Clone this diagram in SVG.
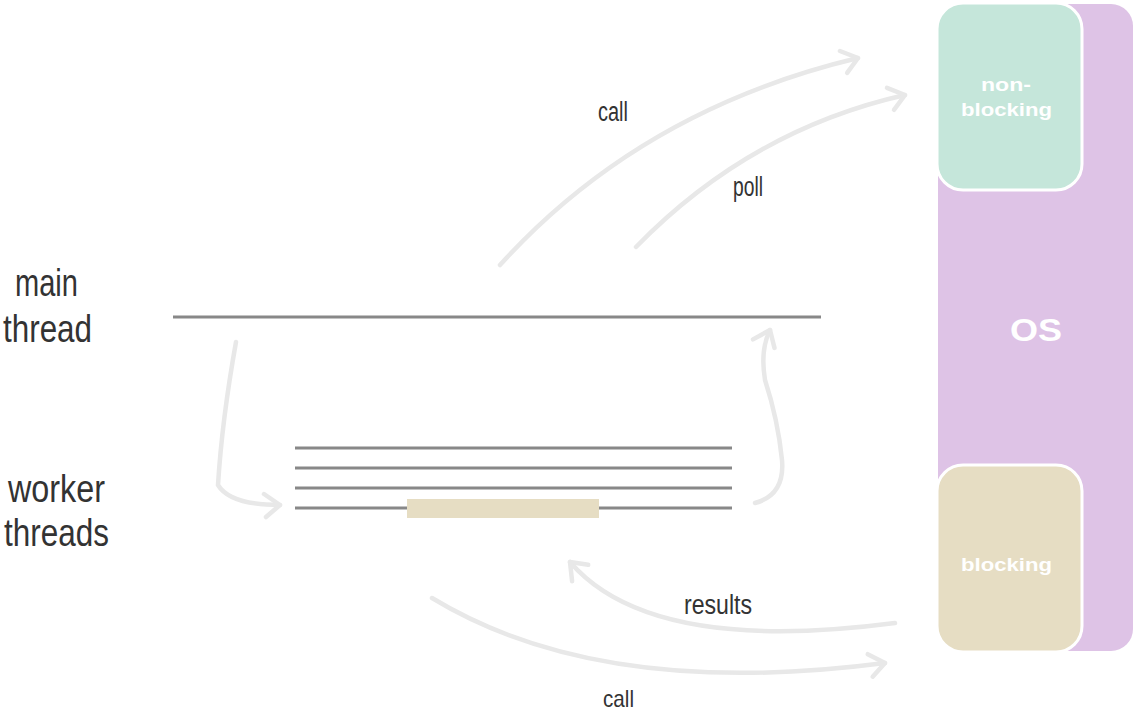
<svg xmlns="http://www.w3.org/2000/svg" width="1134" height="714" viewBox="0 0 1134 714">
<style>
.hand{font-family:"Liberation Sans","DejaVu Sans",sans-serif;fill:#333}
.box{font-family:"Liberation Sans","DejaVu Sans",sans-serif;font-weight:bold;fill:#fff}
.thread{stroke:#888;stroke-width:3;fill:none}
.arr{stroke:#e8e8e8;stroke-width:4.5;fill:none;stroke-linecap:round;marker-end:url(#chev)}
</style>
<defs>
<marker id="chev" markerUnits="userSpaceOnUse" markerWidth="30" markerHeight="30" refX="20" refY="12" orient="auto" overflow="visible">
<path d="M4,1 L20,12 L6,24" fill="none" stroke="#e8e8e8" stroke-width="4.5" stroke-linecap="round" stroke-linejoin="round"/>
</marker>
</defs>
<g id="os">
<rect x="938" y="4" width="195" height="647" rx="22" fill="#dec3e6"/>
<text class="box" x="1010" y="341" font-size="31" textLength="52" lengthAdjust="spacingAndGlyphs">OS</text>
</g>
<g id="non-blocking">
<rect x="937" y="3" width="145" height="187" rx="26" fill="#c5e6da" stroke="#fff" stroke-width="3"/>
<text class="box" x="981" y="91" font-size="18" textLength="50" lengthAdjust="spacingAndGlyphs">non-</text>
<text class="box" x="961" y="116" font-size="18" textLength="91" lengthAdjust="spacingAndGlyphs">blocking</text>
</g>
<g id="blocking">
<rect x="937" y="465" width="145" height="187" rx="26" fill="#e6ddc3" stroke="#fff" stroke-width="3"/>
<text class="box" x="961" y="571" font-size="18" textLength="91" lengthAdjust="spacingAndGlyphs">blocking</text>
</g>
<g id="main-thread">
<line class="thread" x1="173" y1="317" x2="821" y2="317"/>
<text class="hand" x="15" y="296" font-size="38" textLength="63" lengthAdjust="spacingAndGlyphs">main</text>
<text class="hand" x="3" y="342" font-size="38" textLength="89" lengthAdjust="spacingAndGlyphs">thread</text>
</g>
<g id="worker-threads">
<line class="thread" x1="295" y1="448" x2="732" y2="448"/>
<line class="thread" x1="295" y1="468" x2="732" y2="468"/>
<line class="thread" x1="295" y1="488" x2="732" y2="488"/>
<line class="thread" x1="295" y1="508" x2="732" y2="508"/>
<rect x="407" y="499" width="192" height="19" fill="#e6ddc3"/>
<text class="hand" x="8" y="502" font-size="38" textLength="97" lengthAdjust="spacingAndGlyphs">worker</text>
<text class="hand" x="4" y="546" font-size="38" textLength="105" lengthAdjust="spacingAndGlyphs">threads</text>
</g>
<g id="connectors">
<path class="arr" d="M500,265 Q640,110 858,58"/>
<path class="arr" d="M636,247 Q750,130 905,95"/>
<path class="arr" d="M236,342 Q222,420 218,485 Q230,505 280,505"/>
<path class="arr" d="M755,503 Q785,495 782,460 Q778,420 765,380 Q760,350 770,330"/>
<path class="arr" d="M895,623 Q650,655 570,562"/>
<path class="arr" d="M432,598 Q600,700 885,663"/>
<text class="hand" x="598" y="121" font-size="27" textLength="30" lengthAdjust="spacingAndGlyphs">call</text>
<text class="hand" x="733" y="196" font-size="27" textLength="30" lengthAdjust="spacingAndGlyphs">poll</text>
<text class="hand" x="684" y="614" font-size="27" textLength="68" lengthAdjust="spacingAndGlyphs">results</text>
<text class="hand" x="603" y="707" font-size="24" textLength="31" lengthAdjust="spacingAndGlyphs">call</text>
</g>
</svg>
